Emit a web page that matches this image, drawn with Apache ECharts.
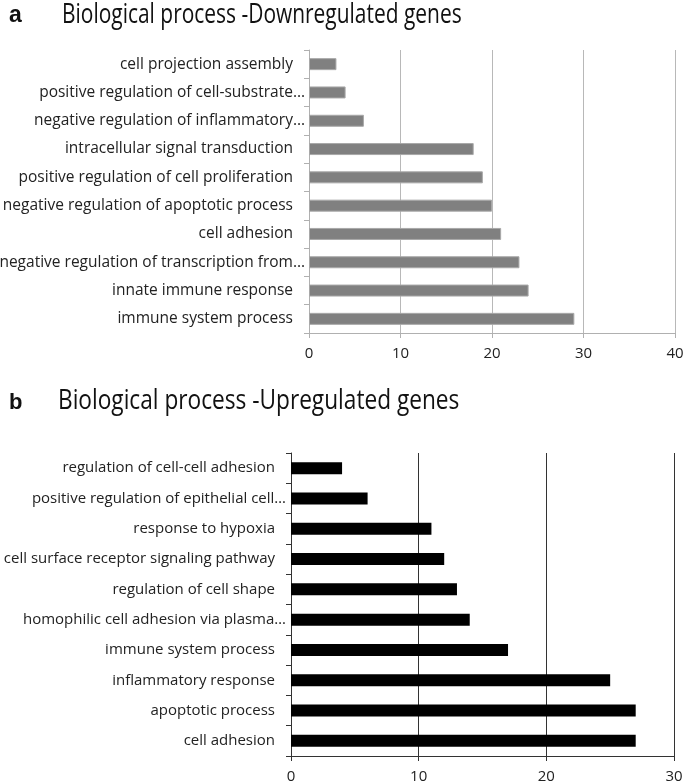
<!DOCTYPE html>
<html>
<head>
<meta charset="utf-8">
<script src="https://cdn.jsdelivr.net/npm/echarts@6/dist/echarts.min.js"></script>
<style>
  html, body { margin: 0; padding: 0; background: #fff; }
  #chart { width: 685px; height: 783px; }
</style>
</head>
<body>
<div id="chart"></div>
<script>
// panel a - downregulated (top to bottom)
const downCategories = [
  "cell projection assembly",
  "positive regulation of cell-substrate…",
  "negative regulation of inflammatory…",
  "intracellular signal transduction",
  "positive regulation of cell proliferation",
  "negative regulation of apoptotic process",
  "cell adhesion",
  "negative regulation of transcription from…",
  "innate immune response",
  "immune system process"
];
const downValues = [3, 4, 6, 18, 19, 20, 21, 23, 24, 29];
const downTicks = [0, 10, 20, 30, 40];

// panel b - upregulated (top to bottom)
const upCategories = [
  "regulation of cell-cell adhesion",
  "positive regulation of epithelial cell…",
  "response to hypoxia",
  "cell surface receptor signaling pathway",
  "regulation of cell shape",
  "homophilic cell adhesion via plasma…",
  "immune system process",
  "inflammatory response",
  "apoptotic process",
  "cell adhesion"
];
const upValues = [4, 6, 11, 12, 13, 14, 17, 25, 27, 27];
const upTicks = [0, 10, 20, 30];

const font = "Open Sans";
const chart = echarts.init(document.getElementById("chart"));

// labels cut with "…" sit closer to the axis, like in the original
function catLabel(v) {
  return v.endsWith("…") ? "{cut|" + v + "}" : "{full|" + v + "}";
}
function catRich(size, pad) {
  return {
    cut: { fontFamily: font, fontSize: size, color: "#222" },
    full: { fontFamily: font, fontSize: size, color: "#222", padding: [0, pad, 0, 0] }
  };
}

function titleText(x, y, sx, text) {
  return {
    type: "text", x: x, y: y, scaleX: sx,
    style: { text: text, font: "26.5px " + font, fill: "#111", verticalAlign: "middle" }
  };
}

const option = {
  animation: false,
  graphic: [
    { type: "text", x: 9, y: 16, style: { text: "a", font: "bold 23px Liberation Sans", fill: "#111", verticalAlign: "middle" } },
    titleText(62, 15, 0.79, "Biological process -Downregulated genes"),
    { type: "text", x: 9, y: 403, style: { text: "b", font: "bold 22px Liberation Sans", fill: "#111", verticalAlign: "middle" } },
    titleText(58, 401, 0.855, "Biological process -Upregulated genes")
  ],
  grid: [
    { left: 309, right: 10, top: 50, height: 283, outerBoundsMode: "none", containLabel: false },
    { left: 291, right: 11, top: 453, height: 303, outerBoundsMode: "none", containLabel: false }
  ],
  xAxis: [
    {
      gridIndex: 0, type: "value", min: 0, max: 40, interval: 10,
      axisLine: { show: true, lineStyle: { color: "#b0b0b0" } },
      axisTick: { show: true, length: 5, lineStyle: { color: "#b0b0b0" } },
      axisLabel: { color: "#222", fontFamily: font, fontSize: 15, margin: 13 },
      splitLine: { show: true, lineStyle: { color: "#b8b8b8", width: 1 } }
    },
    {
      gridIndex: 1, type: "value", min: 0, max: 30, interval: 10,
      axisLine: { show: true, lineStyle: { color: "#333" } },
      axisTick: { show: true, length: 5, lineStyle: { color: "#333" } },
      axisLabel: { color: "#222", fontFamily: font, fontSize: 15, margin: 13 },
      splitLine: { show: true, lineStyle: { color: "#333", width: 1 } }
    }
  ],
  yAxis: [
    {
      gridIndex: 0, type: "category", data: downCategories, inverse: true,
      axisLine: { show: true, lineStyle: { color: "#b0b0b0" } },
      axisTick: { show: true, length: 5, lineStyle: { color: "#b0b0b0" } },
      axisLabel: { margin: 4, formatter: catLabel, rich: catRich(15.5, 12) }
    },
    {
      gridIndex: 1, type: "category", data: upCategories, inverse: true,
      axisLine: { show: true, lineStyle: { color: "#333" } },
      axisTick: { show: true, length: 5, lineStyle: { color: "#333" } },
      axisLabel: { margin: 5, formatter: catLabel, rich: catRich(15, 11) }
    }
  ],
  series: [
    {
      type: "bar", xAxisIndex: 0, yAxisIndex: 0, data: downValues,
      barWidth: 12,
      itemStyle: { color: "#808080", borderColor: "#a8a8a8", borderWidth: 1 }
    },
    {
      type: "bar", xAxisIndex: 1, yAxisIndex: 1, data: upValues,
      barWidth: 12,
      itemStyle: { color: "#000" }
    }
  ]
};
chart.setOption(option);
</script>
</body>
</html>
